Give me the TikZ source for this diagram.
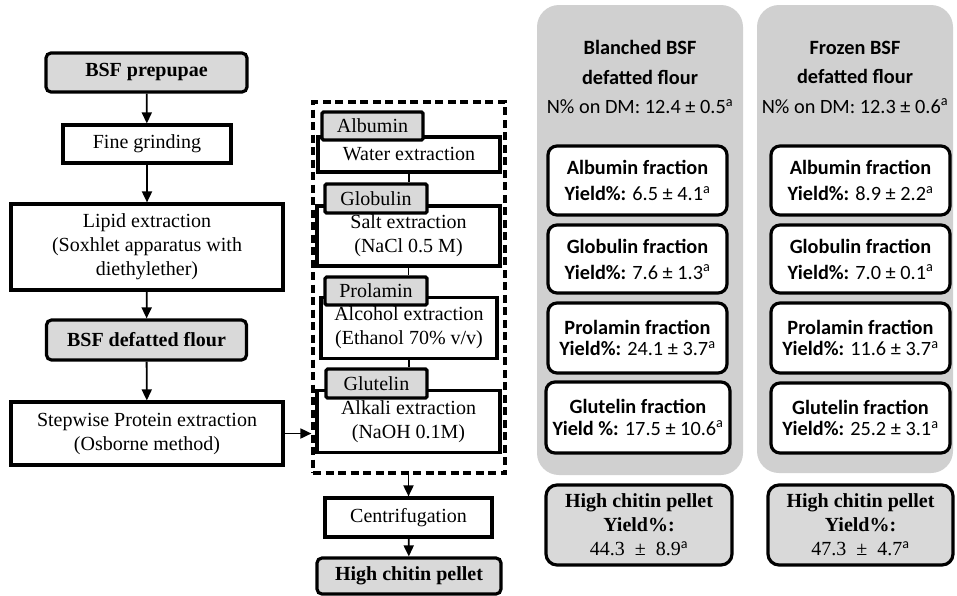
\documentclass[tikz,border=0pt]{standalone}
\usepackage{fontspec}
\setmainfont{Liberation Serif}
\newfontfamily\calibri{Carlito}
\usetikzlibrary{arrows.meta}
\definecolor{panelgray}{RGB}{208,208,208}
\definecolor{boxgray}{RGB}{217,217,217}
\newcommand{\stepfont}{\fontsize{20}{24}\selectfont}
\newcommand{\fracfont}{\calibri\fontsize{20.3}{26}\selectfont}

\begin{document}
\begin{tikzpicture}[x=1pt,y=-1pt,
    wh/.style 2 args={minimum width=#1pt, minimum height=#2pt},
    stepbox/.style={draw, line width=3.2pt, fill=white, align=center, font=\stepfont, inner sep=0pt},
    keybox/.style={stepbox, fill=boxgray, rounded corners=5pt, font=\stepfont\bfseries},
    tabbox/.style={stepbox, fill=boxgray, rounded corners=1.5pt},
    fracbox/.style={draw, line width=3.2pt, fill=white, rounded corners=9pt, align=center, font=\fracfont, inner sep=0pt},
    pelletbox/.style={fracbox, fill=boxgray, rounded corners=11pt, font=\stepfont, align=center},
    panel/.style={fill=panelgray, rounded corners=22pt},
    flow/.style={-{Triangle[length=11pt,width=10pt]}, line width=1.8pt},
    link/.style={line width=1.8pt}]
    \useasboundingbox (0,0) rectangle (957,595);

    % Main process (left column)
    \node[keybox, wh={201}{39}] (prep) at (146.5,72.5) {BSF prepupae};
    \node[stepbox, wh={168}{38}] (grind) at (147,144) {Fine grinding};
    \node[stepbox, wh={272}{86}] (lipid) at (147,247) {Lipid extraction\\(Soxhlet apparatus with\\diethylether)};
    \node[keybox, wh={200}{40}] (flour) at (146.5,340) {BSF defatted flour};
    \node[stepbox, wh={272}{63}] (osb) at (147,433.5) {Stepwise Protein extraction\\(Osborne method)};
    \draw[flow] (prep) -- (grind);
    \draw[flow] (grind) -- (lipid);
    \draw[flow] (lipid) -- (flour);
    \draw[flow] (flour) -- (osb);

    % Osborne fractionation (dashed frame)
    \node[draw, dashed, dash pattern=on 8pt off 4.5pt, line width=3.2pt, wh={192}{371}] (frame) at (409,287.5) {};
    \node[stepbox, wh={182}{35}] (water) at (409,154.5) {Water extraction};
    \node[tabbox, wh={101}{28}] (albtab) at (372.5,126) {Albumin};
    \node[stepbox, wh={183}{60}] (salt) at (408.5,236) {Salt extraction\\(NaCl 0.5 M)};
    \node[tabbox, wh={102}{29}] (globtab) at (376,198.5) {Globulin};
    \node[stepbox, wh={176}{61}] (alcohol) at (409,328) {Alcohol extraction\\(Ethanol 70\% v/v)};
    \node[tabbox, wh={102}{28}] (protab) at (376,291) {Prolamin};
    \node[stepbox, wh={183}{62}] (alkali) at (408.5,421.5) {Alkali extraction\\(NaOH 0.1M)};
    \node[tabbox, wh={101}{29}] (glutab) at (376.5,383.5) {Glutelin};
    \draw[link] (water.south) -- (water.south |- globtab.north);
    \draw[link] (salt.south) -- (salt.south |- protab.north);
    \draw[link] (alcohol.south) -- (alcohol.south |- glutab.north);
    \draw[flow] (osb.east) -- (osb.east -| frame.west);

    % Recovery of the pellet
    \node[stepbox, wh={167}{39}] (centri) at (408.5,517.5) {Centrifugation};
    \node[keybox, wh={184}{36}] (pellet) at (409,576) {High chitin pellet};
    \draw[flow] (frame.south -| centri.north) -- (centri);
    \draw[flow] (centri) -- (pellet);

    % Blanched BSF results
    \fill[panel] (537,5) rectangle (743,475);
    \node[font=\calibri\fontsize{20.3}{29.5}\selectfont, align=center] (blanched) at (640,77)
        {\textbf{Blanched BSF}\\\textbf{defatted flour}\\N\% on DM: 12.4 ± 0.5\textsuperscript{a}};
    \node[fracbox, wh={179}{69}] (albB) at (637.5,180.5) {\textbf{Albumin fraction}\\\textbf{Yield\%:} 6.5 ± 4.1\textsuperscript{a}};
    \node[fracbox, wh={179}{68}] (globB) at (637.5,259) {\textbf{Globulin fraction}\\\textbf{Yield\%:} 7.6 ± 1.3\textsuperscript{a}};
    \node[fracbox, wh={179}{70}, font=\calibri\fontsize{20.3}{21.5}\selectfont] (proB) at (637.5,338) {\textbf{Prolamin fraction}\\\textbf{Yield\%:} 24.1 ± 3.7\textsuperscript{a}};
    \node[fracbox, wh={184}{71}, font=\calibri\fontsize{20.3}{21.5}\selectfont] (gluB) at (638,417.5) {\textbf{Glutelin fraction}\\\textbf{Yield \%:} 17.5 ± 10.6\textsuperscript{a}};
    \node[pelletbox, wh={186}{80}] (pelB) at (639,525)
        {\textbf{High chitin pellet}\\\textbf{Yield\%:}\\44.3\hspace{0.5em}±\hspace{0.5em}8.9{\calibri\textsuperscript{a}}};

    % Frozen BSF results
    \fill[panel] (757,5) rectangle (953,473);
    \node[font=\calibri\fontsize{20.3}{29.5}\selectfont, align=center] (frozen) at (855,77)
        {\textbf{Frozen BSF}\\\textbf{defatted flour}\\N\% on DM: 12.3 ± 0.6\textsuperscript{a}};
    \node[fracbox, wh={179}{69}] (albF) at (860.5,180.5) {\textbf{Albumin fraction}\\\textbf{Yield\%:} 8.9 ± 2.2\textsuperscript{a}};
    \node[fracbox, wh={179}{68}] (globF) at (860.5,259) {\textbf{Globulin fraction}\\\textbf{Yield\%:} 7.0 ± 0.1\textsuperscript{a}};
    \node[fracbox, wh={179}{70}, font=\calibri\fontsize{20.3}{21.5}\selectfont] (proF) at (860.5,338) {\textbf{Prolamin fraction}\\\textbf{Yield\%:} 11.6 ± 3.7\textsuperscript{a}};
    \node[fracbox, wh={179}{70}, font=\calibri\fontsize{20.3}{21.5}\selectfont] (gluF) at (860.5,418) {\textbf{Glutelin fraction}\\\textbf{Yield\%:} 25.2 ± 3.1\textsuperscript{a}};
    \node[pelletbox, wh={185}{80}] (pelF) at (860.5,525)
        {\textbf{High chitin pellet}\\\textbf{Yield\%:}\\47.3\hspace{0.5em}±\hspace{0.5em}4.7{\calibri\textsuperscript{a}}};
\end{tikzpicture}
\end{document}
